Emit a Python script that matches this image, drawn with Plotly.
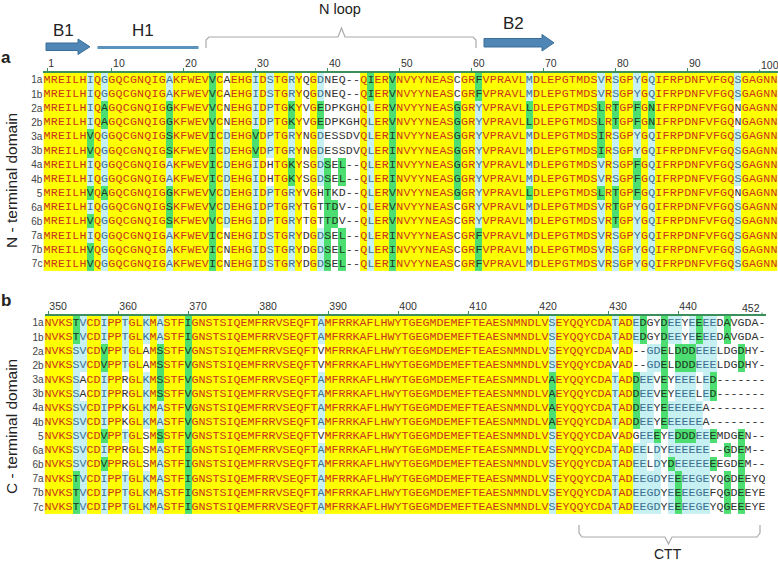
import plotly.graph_objects as go

W, H = 778, 564

# sequence names, same order in both panels
row_names = ["1a", "1b", "2a", "2b", "3a", "3b", "4a", "4b", "5", "6a", "6b", "7a", "7b", "7c"]

# N-terminal domain, residues 1-102
n_start = 1
n_seqs = [
    "MREILHIQGGQCGNQIGAKFWEVVCAEHGI" "DSTGRYQGDNEQ--QIERVNVYYNEASCGRFVPR" "AVLMDLEPGTMDSVRSGPYGQIFRPDNFVFGQSGAGNN",
    "MREILHIQGGQCGNQIGAKFWEVVCAEHGI" "DSTGRYQGDNEQ--QIERVNVYYNEASCGRFVPR" "AVLMDLEPGTMDSVRSGPYGQIFRPDNFVFGQSGAGNN",
    "MREILHIQAGQCGNQIGGKFWEVVCNEHGI" "DPTGKYVGEDPKGHQLERVNVYYNEASGGRYVPR" "AVLLDLEPGTMDSLRTGPFGNIFRPDNFVFGQNGAGNN",
    "MREILHIQAGQCGNQIGGKFWEVVCNEHGI" "DPTGKYVGEDPKGHQLERVNVYYNEASGGRYVPR" "AVLLDLEPGTMDSLRTGPFGNIFRPDNFVFGQNGAGNN",
    "MREILHVQGGQCGNQIGSKFWEVICDEHGV" "DPTGRYNGDESSDVQLERINVYYNEASGGRYVPR" "AVLMDLEPGTMDSIRSGPYGQIFRPDNFVFGQSGAGNN",
    "MREILHVQGGQCGNQIGSKFWEVICDEHGV" "DPTGRYNGDESSDVQLERINVYYNEASGGRYVPR" "AVLMDLEPGTMDSIRSGPYGQIFRPDNFVFGQSGAGNN",
    "MREILHIQGGQCGNQIGAKFWEVICDEHGI" "DHTGKYSGDSEL--QLERINVYYNEASGGRYVPR" "AVLMDLEPGTMDSVRSGPFGQIFRPDNFVFGQSGAGNN",
    "MREILHIQGGQCGNQIGAKFWEVICDEHGI" "DHTGKYSGDSEL--QLERINVYYNEASGGRYVPR" "AVLMDLEPGTMDSVRSGPFGQIFRPDNFVFGQSGAGNN",
    "MREILHVQAGQCGNQIGGKFWEVVCDEHGI" "DPTGRYVGHTKD--QLERVNVYYNEASGGRYVPR" "AVLLDLEPGTMDSLRTGPFGQIFRPDNFVFGQNGAGNN",
    "MREILHIQGGQCGNQIGSKFWEVVCDEHGI" "DPTGRYTGTTDV--QLERVNVYYNEASCGRYVPR" "AVLMDLEPGTMDSVRTGPYGQIFRPDNFVFGQSGAGNN",
    "MREILHVQGGQCGNQIGSKFWEVVCDEHGI" "DPTGRYTGTTDV--QLERVNVYYNEASCGRYVPR" "AVLMDLEPGTMDSVRTGPYGQIFRPDNFVFGQSGAGNN",
    "MREILHIQGGQCGNQIGAKFWEVICNEHGI" "DSTGRYDGDSEL--QLERINVYYNEASCGRFVPR" "AVLMDLEPGTMDSVRSGPYGQIFRPDNFVFGQSGAGNN",
    "MREILHVQGGQCGNQIGAKFWEVICNEHGI" "DSTGRYDGDSEL--QLERINVYYNEASCGRFVPR" "AVLMDLEPGTMDSVRSGPYGQIFRPDNFVFGQSGAGNN",
    "MREILHVQGGQCGNQIGAKFWEVICNEHGI" "DSTGRYDGDSEL--QLERINVYYNEASCGRFVPR" "AVLMDLEPGTMDSVRSGPYGQIFRPDNFVFGQSGAGNN",
]

# C-terminal domain, residues 350-452
c_start = 350
c_seqs = [
    "NVKSTVCDIPPTGLKMASTFIGNSTSIQEMFRRVSEQFTA" "MFRRKAFLHWYTGEGMDEMEFTEAESNMNDLVSEYQQYCDA" "TADEDGYDEEYEEEEDAVGDA-",
    "NVKSTVCDIPPTGLKMASTFIGNSTSIQEMFRRVSEQFTA" "MFRRKAFLHWYTGEGMDEMEFTEAESNMNDLVSEYQQYCDA" "TADEDGYDEEYEEEEDAVGDA-",
    "NVKSSVCDVPPTGLAMSSTFVGNSTSIQEMFRRVSEQFTV" "MFRRKAFLHWYTGEGMDEMEFTEAESNMNDLVSEYQQYCDA" "VAD--GDELDDDEEELDGDHY-",
    "NVKSSVCDVPPTGLAMSSTFVGNSTSIQEMFRRVSEQFTV" "MFRRKAFLHWYTGEGMDEMEFTEAESNMNDLVSEYQQYCDA" "VAD--GDELDDDEEELDGDHY-",
    "NVKSSACDIPPRGLKMSSTFVGNSTSIQEMFRRVSEQFTA" "MFRRKAFLHWYTGEGMDEMEFTEAESNMNDLVAEYQQYCDA" "TADDEEVEYEEELED-------",
    "NVKSSACDIPPRGLKMSSTFVGNSTSIQEMFRRVSEQFTA" "MFRRKAFLHWYTGEGMDEMEFTEAESNMNDLVAEYQQYCDA" "TADDEEVEYEEELED-------",
    "NVKSSVCDIPPKGLKMASTFVGNSTSIQEMFRRVSEQFTA" "MFRRKAFLHWYTGEGMDEMEFTEAESNMNDLVAEYQQYCDA" "TADDEEYEEEEEEA--------",
    "NVKSSVCDIPPKGLKMASTFVGNSTSIQEMFRRVSEQFTA" "MFRRKAFLHWYTGEGMDEMEFTEAESNMNDLVAEYQQYCDA" "TADDEEYEEEEEEA--------",
    "NVKSSVCDVPPTGLSMSSTFVGNSTSIQEMFRRVSEQFTV" "MFRRKAFLHWYTGEGMDEMEFTEAESNMNDLVSEYQQYCDA" "VADGEEEYEDDDEEEMDGEN--",
    "NVKSSVCDIPPRGLSMASTFIGNSTSIQEMFRRVSEQFTA" "MFRRKAFLHWYTGEGMDEMEFTEAESNMNDLVSEYQQYCDA" "TADEELDYEEEEEE--GDEM--",
    "NVKSSVCDVPPRGLSMASTFIGNSTSIQEMFRRVSEQFTA" "MFRRKAFLHWYTGEGMDEMEFTEAESNMNDLVSEYQQYCDA" "TADEELDYDEEEEEEEGDEM--",
    "NVKSTVCDIPPTGLKMASTFIGNSTSIQEMFRRVSEQFTA" "MFRRKAFLHWYTGEGMDEMEFTEAESNMNDLVSEYQQYCDA" "TADEEGDYEEEEGEYQGDEEYQ",
    "NVKSTVCDIPPTGLKMASTFIGNSTSIQEMFRRVSEQFTA" "MFRRKAFLHWYTGEGMDEMEFTEAESNMNDLVSEYQQYCDA" "TADEEGDYEEEEGEFQGDEEYE",
    "NVKSTVCDIPPTGLKMASTFIGNSTSIQEMFRRVSEQFTA" "MFRRKAFLHWYTGEGMDEMEFTEAESNMNDLVSEYQQYCDA" "TADEEGDYEEEEGEYQGEEEYE",
]

# shading: Y identical, B consensus, G similar, W other
# columns not listed are identical (yellow); "*" = any other residue
n_shade = {
    7: {"I": "B", "V": "G"}, 9: {"G": "B", "A": "G"}, 18: {"A": "B", "G": "G", "S": "G"},
    24: {"V": "G", "I": "G"}, 26: {"D": "B", "*": "W"}, 30: {"I": "B", "V": "G"},
    32: {"S": "B", "P": "B", "H": "W"}, 35: {"R": "B", "K": "G"}, 37: {"*": "W"},
    39: {"D": "B", "E": "G", "*": "W"}, 40: {"S": "G", "T": "G", "*": "W"},
    41: {"D": "G", "*": "W"}, 42: {"L": "G", "*": "W"}, 43: {"*": "W"}, 44: {"*": "W"},
    46: {"I": "G", "L": "B"}, 49: {"V": "G", "I": "G"}, 58: {"C": "W", "G": "G"},
    61: {"F": "G", "Y": "B"}, 68: {"M": "B", "L": "G"}, 78: {"V": "B", "L": "G", "I": "G"},
    80: {"S": "B", "T": "G"}, 83: {"Y": "B", "F": "G"}, 85: {"Q": "B", "N": "G"},
    97: {"S": "B", "N": "W"},
}
c_shade = {
    354: {"T": "G", "S": "B"}, 355: {"V": "B", "A": "W"}, 358: {"I": "B", "V": "G"},
    361: {"T": "B", "*": "W"}, 364: {"K": "B", "*": "W"}, 366: {"A": "B", "S": "G"},
    370: {"I": "G", "V": "G"}, 389: {"A": "B", "V": "W"}, 422: {"S": "B", "A": "G"},
    431: {"T": "B", "V": "W"},
}
# CTT tail (434-452), shaded row by row
c_tail_start = 434
c_tail_shade = [
    "BGWWGBBWBGBBWGWWWWW", "BGWWGBBWBGBBWGWWWWW",
    "WWBBGWGGGBBBWWWGWWW", "WWBBGWGGGBBBWWWGWWW",
    "GBBWGWBBBWBGWWWWWWW", "GBBWGWBBBWBGWWWWWWW",
    "GBBWGBBBBBWWWWWWWWW", "GBBWGBBBBBWWWWWWWWW",
    "WBBGWBGGGBBGWWWGWWW",
    "BBWBWBBBBBBWWGWGWWW", "BBWBWGBBBBBGWWWGWWW",
    "BBBBWBGBBBBWWGWGWWW", "BBBBWBGBBBBWWGWGWWW", "BBBBWBGBBBBWWGWGWWW",
]

n_ticks = [1, 10, 20, 30, 40, 50, 60, 70, 80, 90]
n_last = 100
c_ticks = [350, 360, 370, 380, 390, 400, 410, 420, 430, 440]
c_last = 452

cell_bg = {"Y": "#ffff00", "B": "#c6f0f2", "G": "#4cde70", "W": "#ffffff"}
cell_fg = {"Y": "#c8351e", "B": "#3d6f90", "G": "#1f3a25", "W": "#333333"}
code = {"Y": 0, "B": 1, "G": 2, "W": 3}
MONO = "Liberation Mono, DejaVu Sans Mono, monospace"
SANS = "Liberation Sans, Arial, sans-serif"
RULER = "#3a8f5a"


def shade(seqs, start, rules, tail=None, tail_start=None):
    out = []
    for i, s in enumerate(seqs):
        row = []
        for j, ch in enumerate(s):
            col = start + j
            if ch == "-":
                k = "W"
            elif tail is not None and col >= tail_start:
                k = tail[i][col - tail_start]
            elif col in rules:
                k = rules[col].get(ch, rules[col].get("*", "Y"))
            else:
                k = "Y"
            row.append(k)
        out.append(row)
    return out


def px(x):
    return x / W


def py(y):
    return 1 - y / H


fig = go.Figure()
scale = [[0, cell_bg["Y"]], [0.25, cell_bg["Y"]], [0.25, cell_bg["B"]], [0.5, cell_bg["B"]],
         [0.5, cell_bg["G"]], [0.75, cell_bg["G"]], [0.75, cell_bg["W"]], [1, cell_bg["W"]]]

panels = [
    (n_seqs, n_start, shade(n_seqs, n_start, n_shade), "x", "y"),
    (c_seqs, c_start, shade(c_seqs, c_start, c_shade, c_tail_shade, c_tail_start), "x2", "y2"),
]
for seqs, start, cls, xa, ya in panels:
    cols = list(range(start, start + len(seqs[0])))
    fig.add_trace(go.Heatmap(
        z=[[code[k] for k in r] for r in cls], x=cols, y=list(range(len(seqs))),
        colorscale=scale, zmin=0, zmax=3, showscale=False, hoverinfo="skip",
        xaxis=xa, yaxis=ya,
    ))
    for k in ["Y", "B", "G", "W"]:
        xs, ys, ts = [], [], []
        for i, s in enumerate(seqs):
            for j, ch in enumerate(s):
                if cls[i][j] == k:
                    xs.append(start + j)
                    ys.append(i)
                    ts.append(ch)
        fig.add_trace(go.Scatter(
            x=xs, y=ys, text=ts, mode="text", textposition="middle center",
            textfont=dict(family=MONO, size=11.6, color=cell_fg[k]),
            hoverinfo="skip", showlegend=False, xaxis=xa, yaxis=ya,
        ))

axis_x = dict(side="top", showgrid=False, zeroline=False, showline=True, linecolor=RULER,
              linewidth=1.6, ticks="outside", ticklen=3, tickcolor=RULER, tickwidth=1,
              ticklabelposition="outside right", tickfont=dict(family=SANS, size=10.5, color="#333"),
              fixedrange=True, automargin=False)
axis_y = dict(showgrid=False, zeroline=False, showline=False, ticks="",
              tickvals=list(range(len(row_names))), ticktext=row_names,
              tickfont=dict(family=SANS, size=10, color="#444"),
              range=[len(row_names) - 0.5, -0.5], fixedrange=True, automargin=False)

fig.update_layout(
    width=W, height=H, margin=dict(l=0, r=0, t=0, b=0),
    paper_bgcolor="white", plot_bgcolor="white", showlegend=False,
    xaxis=dict(axis_x, domain=[px(43.4), px(777.6)], range=[0.5, 102.5], tickvals=n_ticks, anchor="y"),
    yaxis=dict(axis_y, domain=[py(271), py(72.9)], anchor="x"),
    xaxis2=dict(axis_x, domain=[px(44.5), px(765.5)], range=[349.5, 452.5], tickvals=c_ticks, anchor="y2"),
    yaxis2=dict(axis_y, domain=[py(514.1), py(315.9)], anchor="x2"),
)


def poly(points, closed=True):
    p = "M " + " L ".join(f"{px(x):.5f},{py(y):.5f}" for x, y in points)
    return p + (" Z" if closed else "")


arrow_fill, arrow_line = "#4f86b5", "#3a6e99"
shapes = [
    # B1 strand
    dict(type="path", path=poly([(46, 43), (78, 43), (78, 39), (90, 46.8), (78, 54.5), (78, 50.5), (46, 50.5)]),
         fillcolor=arrow_fill, line=dict(color=arrow_line, width=1)),
    # H1 helix
    dict(type="line", x0=px(97.5), x1=px(198.5), y0=py(47.5), y1=py(47.5),
         line=dict(color="#5b93bf", width=3)),
    # B2 strand
    dict(type="path", path=poly([(484, 38.5), (542, 38.5), (542, 34.5), (554, 42.8), (542, 51), (542, 47), (484, 47)]),
         fillcolor=arrow_fill, line=dict(color=arrow_line, width=1)),
    # N loop brace
    dict(type="path", path=poly([(206, 48), (206, 40), (209, 37), (338, 37), (341.5, 28), (345, 37),
                                 (473, 37), (476, 40), (476, 48)], closed=False),
         line=dict(color="#aaaaaa", width=1.2)),
    # CTT brace
    dict(type="path", path=poly([(579, 525), (579, 533), (582, 537), (665, 537), (668.5, 544), (672, 537),
                                 (757, 537), (760, 533), (760, 525)], closed=False),
         line=dict(color="#aaaaaa", width=1.2)),
]
for s in shapes:
    s.update(xref="paper", yref="paper")
fig.update_layout(shapes=shapes)

# last ruler ticks: labels drawn by hand so they stay inside the page
fig.add_shape(type="line", xref="x", yref="paper", x0=n_last, x1=n_last, y0=py(72.9), y1=py(69.5),
              line=dict(color=RULER, width=1))
fig.add_annotation(x=n_last, y=py(64.5), xref="x", yref="paper", text=str(n_last), showarrow=False,
                   xanchor="left", yanchor="middle", xshift=-1,
                   font=dict(family=SANS, size=10.5, color="#333"))
fig.add_shape(type="line", xref="x2", yref="paper", x0=c_last, x1=c_last, y0=py(315.9), y1=py(312.5),
              line=dict(color=RULER, width=1))
fig.add_annotation(x=c_last, y=py(307.5), xref="x2", yref="paper", text=str(c_last), showarrow=False,
                   xanchor="right", yanchor="middle", font=dict(family=SANS, size=10.5, color="#333"))


def label(text, x, y, size, bold=False, angle=0, xanchor="center"):
    fig.add_annotation(
        x=px(x), y=py(y), xref="paper", yref="paper", text=f"<b>{text}</b>" if bold else text,
        showarrow=False, textangle=angle, xanchor=xanchor, yanchor="middle",
        font=dict(family=SANS, size=size, color="#222"),
    )


label("B1", 64, 30, 17)
label("H1", 143, 30, 17)
label("N loop", 340, 9, 14.5)
label("B2", 513, 24, 17)
label("a", 6, 57, 17, bold=True)
label("b", 6, 300, 17, bold=True)
label("N - terminal domain", 11, 181, 15.5, angle=-90)
label("C - terminal domain", 11, 427, 15.5, angle=-90)
label("CTT", 668, 554, 14)

fig.write_html("out.html", config={"displayModeBar": False},
               post_script="document.body.style.margin='0';")
